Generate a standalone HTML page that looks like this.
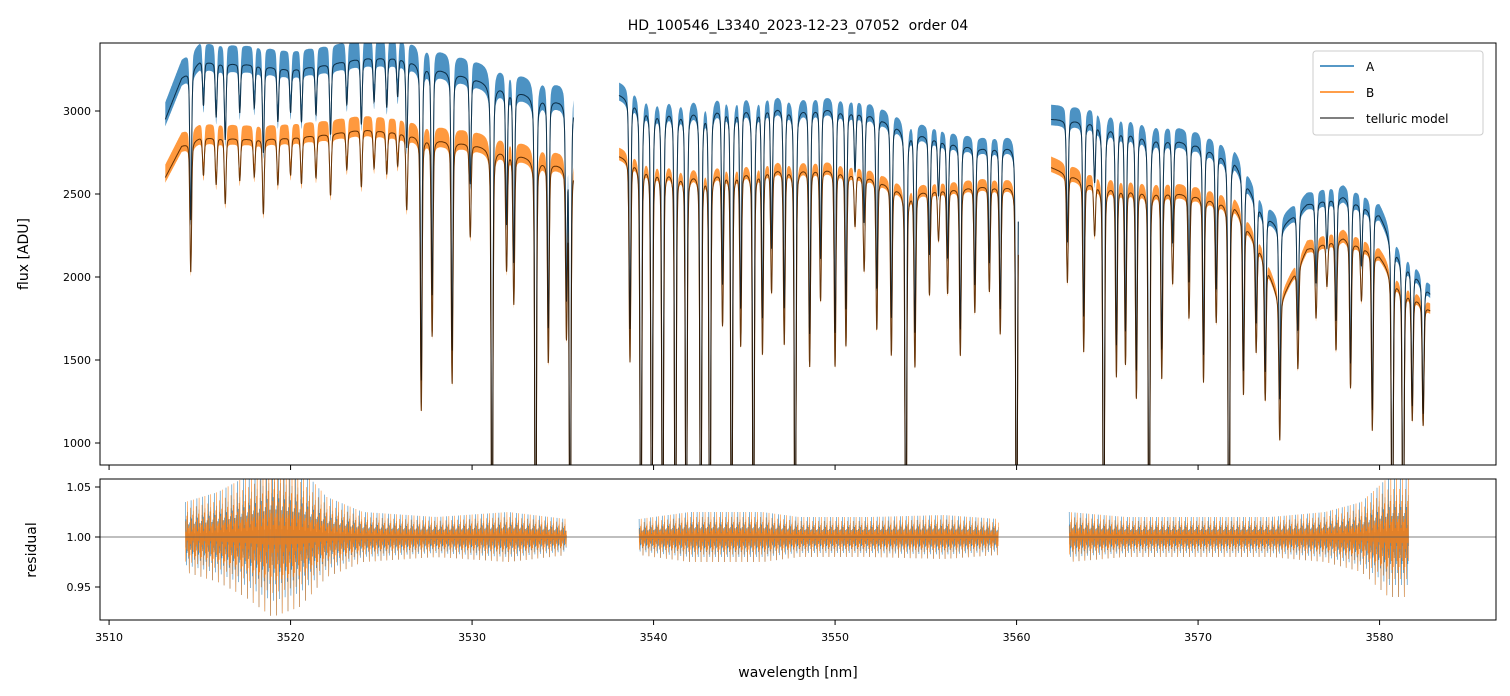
<!DOCTYPE html>
<html><head><meta charset="utf-8"><style>
body{margin:0;background:#fff;}
svg{display:block;font-family:"DejaVu Sans","Liberation Sans",sans-serif;}
</style></head><body>
<svg id="chart" width="1510" height="696" xmlns="http://www.w3.org/2000/svg">
<defs>
<clipPath id="clipTop"><rect x="100" y="43" width="1396" height="422"/></clipPath>
<clipPath id="clipBot"><rect x="100" y="479" width="1396" height="141"/></clipPath>
</defs>
<text x="798" y="30" text-anchor="middle" font-size="14" style="white-space:pre">HD_100546_L3340_2023-12-23_07052  order 04</text>
<g id="topPanel" clip-path="url(#clipTop)"></g>
<g id="botPanel" clip-path="url(#clipBot)"></g>
<g id="axesG"></g>
<text x="28" y="254" text-anchor="middle" font-size="14" transform="rotate(-90 28 254)">flux [ADU]</text>
<text x="36" y="550" text-anchor="middle" font-size="14" transform="rotate(-90 36 550)">residual</text>
<text x="798" y="677" text-anchor="middle" font-size="14">wavelength [nm]</text>
<g>
<rect x="1313" y="51" width="170" height="84" rx="3" fill="#fff" fill-opacity="0.8" stroke="#ccc"/>
<line x1="1320" y1="66" x2="1354" y2="66" stroke="#1f77b4" stroke-width="1.5"/>
<text x="1366" y="71" font-size="12">A</text>
<line x1="1320" y1="92" x2="1354" y2="92" stroke="#ff7f0e" stroke-width="1.5"/>
<text x="1366" y="97" font-size="12">B</text>
<line x1="1320" y1="118" x2="1354" y2="118" stroke="#555" stroke-width="1.5"/>
<text x="1366" y="123" font-size="12">telluric model</text>
</g>
</svg>
<script>
// segment ranges [nm]
const segStart = [3513.1, 3538.1, 3561.9];
const segEnd   = [3535.6, 3560.1, 3582.8];
// continuum (flux) for A and B
const contWl = [3513.1,3514,3515,3516,3518,3520,3522,3524,3526,3528,3530,3532,3534,3535.6,
                3538.1,3540,3542,3544,3546,3548,3550,3552,3554,3556,3558,3560.1,
                3561.9,3564,3566,3568,3570,3572,3573.5,3574.5,3576,3578,3580,3581,3582.8];
const contA = [2950,3200,3300,3290,3280,3250,3280,3320,3320,3260,3200,3130,3080,3050,
               3100,3030,3020,3030,3030,3020,3020,2980,2890,2820,2780,2790,
               2950,2940,2890,2840,2800,2710,2400,2300,2440,2490,2380,2160,1900];
const contB = [2600,2790,2840,2840,2830,2840,2860,2890,2870,2830,2800,2750,2700,2660,
               2730,2670,2630,2640,2650,2660,2650,2600,2510,2530,2550,2550,
               2660,2570,2540,2520,2490,2440,2150,1850,2170,2240,2130,1970,1800];
// absorption lines: wavelength and fractional depth
const lineWl = [3514.5,3515.2,3515.9,3516.4,3517.2,3518.0,3518.5,3519.3,3520.0,3520.6,3521.4,3522.2,3523.1,3523.9,3524.6,3525.3,3525.9,3526.4,3527.2,3527.8,3528.9,3529.9,3531.1,3531.9,3532.3,3533.5,3534.2,3535.2,3535.4,
                3538.7,3539.3,3539.9,3540.5,3541.2,3541.8,3542.6,3543.1,3543.8,3544.3,3544.8,3545.5,3546.0,3546.5,3547.2,3547.8,3548.6,3549.2,3550.0,3550.6,3551.1,3551.6,3552.3,3553.1,3553.9,3554.4,3555.2,3555.7,3556.2,3556.9,3557.7,3558.5,3559.1,3560.0,
                3562.8,3563.7,3564.3,3564.8,3565.5,3566.0,3566.6,3567.3,3568.0,3568.6,3569.5,3570.3,3571.0,3571.7,3572.5,3573.2,3573.7,3574.5,3575.5,3576.5,3577.1,3577.6,3578.4,3579.0,3579.6,3580.7,3581.3,3581.8,3582.4];
const lineDepth = [0.28,0.08,0.10,0.14,0.09,0.08,0.16,0.10,0.08,0.10,0.09,0.13,0.08,0.12,0.08,0.09,0.07,0.16,0.58,0.42,0.52,0.20,1.0,0.26,0.33,1.0,0.45,0.38,1.0,
                   0.45,1.0,1.0,1.0,1.0,1.0,1.0,1.0,0.35,1.0,0.40,1.0,0.42,0.28,0.40,1.0,0.45,0.30,0.45,0.40,0.12,0.22,0.35,0.40,1.0,0.42,0.25,0.12,0.25,0.40,0.30,0.25,0.35,1.0,
                   0.25,0.40,0.12,1.0,0.45,0.42,0.50,1.0,0.45,0.22,0.30,0.45,0.30,1.0,0.45,0.30,0.40,0.45,0.30,0.20,0.12,0.30,0.40,0.15,0.50,1.0,1.0,0.40,0.40];
// noise amplitude (fraction) of observed spectra per segment
const noiseA = [0.035,0.025,0.03];
const noiseB = [0.03,0.02,0.025];
// residual envelope amplitude
const resWl  = [3514.2,3516,3517.5,3519,3520.5,3522,3524,3528,3532,3535.2,
                3539.2,3542,3546,3548,3552,3556,3559.0,
                3562.9,3566,3570,3574,3577,3579,3580.5,3581.6];
const resAmp = [0.035,0.045,0.06,0.08,0.07,0.04,0.025,0.02,0.025,0.018,
                0.018,0.025,0.025,0.02,0.02,0.022,0.018,
                0.025,0.02,0.02,0.02,0.025,0.035,0.06,0.06];
const resSegStart=[3514.2,3539.2,3562.9];
const resSegEnd=[3535.2,3559.0,3581.6];
const xTicks=[3510,3520,3530,3540,3550,3560,3570,3580];
const yTicksTop=[1000,1500,2000,2500,3000];
const yTicksBot=[0.95,1.00,1.05];

const NS="http://www.w3.org/2000/svg";
const X=w=>100+(w-3509.5)*18.15;
const YT=f=>443-(f-1000)*0.166;
const YB=r=>537-(r-1.0)*1000;
function interp(xs,ys,x){if(x<=xs[0])return ys[0];for(let i=1;i<xs.length;i++){if(x<=xs[i]){const t=(x-xs[i-1])/(xs[i]-xs[i-1]);return ys[i-1]+t*(ys[i]-ys[i-1]);}}return ys[ys.length-1];}
function trans(w){let t=1;for(let i=0;i<lineWl.length;i++){const d=(w-lineWl[i])/0.065;if(Math.abs(d)<20){const p=0.75*Math.exp(-d*d)+0.25/(1+d*d);t*=1-lineDepth[i]*p;}}return t;}
function mk(tag,attrs,parent){const e=document.createElementNS(NS,tag);for(const k in attrs)e.setAttribute(k,attrs[k]);parent.appendChild(e);return e;}
const topG=document.getElementById('topPanel'),botG=document.getElementById('botPanel'),axesG=document.getElementById('axesG');
const alt=[1,-0.3,0.5,-0.8,0.2,-0.45,0.7,-0.15,0.35,-0.6,0.1,-1,0.4,-0.25,0.55,-0.35];
function drawSeries(cont,noise,color,name){
  for(let s=0;s<3;s++){
    let up=[],lo=[],ln=[];
    for(let w=segStart[s];w<=segEnd[s];w+=0.012){
      const m=interp(contWl,cont,w)*trans(w);
      ln.push(X(w).toFixed(1)+','+YT(m).toFixed(1));
      up.push(X(w).toFixed(1)+','+YT(m*(1+noise[s])).toFixed(1));
      lo.unshift(X(w).toFixed(1)+','+YT(m*(1-noise[s]*0.4)).toFixed(1));
    }
    const b=mk('polygon',{points:up.concat(lo).join(' '),fill:color,'fill-opacity':0.8},topG);
    
    
    const l=mk('polyline',{points:ln.join(' '),fill:'none',stroke:color,'stroke-width':1,'stroke-opacity':0.9},topG);
    
    
  }
}
drawSeries(contA,noiseA,'#1f77b4','series-a');
drawSeries(contB,noiseB,'#ff7f0e','series-b');
['a','b'].forEach(k=>{const c=k==='a'?contA:contB;
  for(let s=0;s<3;s++){let pts=[];
    for(let w=segStart[s];w<=segEnd[s];w+=0.012){pts.push(X(w).toFixed(1)+','+YT(interp(contWl,c,w)*trans(w)).toFixed(1));}
    const e=mk('polyline',{points:pts.join(' '),fill:'none',stroke:'#000','stroke-opacity':0.6,'stroke-width':1},topG);
    
    
  }});
// residuals
[['#1f77b4',1,'residual-a',0],['#ff7f0e',-1,'residual-b',5]].forEach(([col,sg,nm,off])=>{
  for(let s=0;s<3;s++){let pts=[],i=off;
    for(let w=resSegStart[s];w<=resSegEnd[s];w+=0.02){const a=interp(resWl,resAmp,w);pts.push(X(w).toFixed(1)+','+YB(1+sg*a*alt[i%16]).toFixed(1));i++;}
    const e=mk('polyline',{points:pts.join(' '),fill:'none',stroke:col,'stroke-width':0.6,'stroke-opacity':0.85},botG);
    
    
  }});
const ref=mk('line',{x1:100,x2:1496,y1:YB(1),y2:YB(1),stroke:'#555','stroke-width':0.7},botG);


// frames
[[43,465],[479,620]].forEach(([y0,y1])=>{const r=mk('rect',{x:100,y:y0,width:1396,height:y1-y0,fill:'none',stroke:'#000','stroke-width':1},axesG);

});
xTicks.forEach(v=>{const x=X(v);
  mk('line',{x1:x,x2:x,y1:465,y2:470,stroke:'#000'},axesG);
  mk('line',{x1:x,x2:x,y1:620,y2:625,stroke:'#000'},axesG);
  const t=mk('text',{x:x,y:641,'text-anchor':'middle','font-size':11},axesG);t.textContent=v;
  
  });
yTicksTop.forEach(v=>{const y=YT(v);mk('line',{x1:95,x2:100,y1:y,y2:y,stroke:'#000'},axesG);
  const t=mk('text',{x:91,y:y+4,'text-anchor':'end','font-size':11},axesG);t.textContent=v;
  
  });
yTicksBot.forEach(v=>{const y=YB(v);mk('line',{x1:95,x2:100,y1:y,y2:y,stroke:'#000'},axesG);
  const t=mk('text',{x:91,y:y+4,'text-anchor':'end','font-size':11},axesG);t.textContent=v.toFixed(2);
  
  });
</script>
</body></html>
